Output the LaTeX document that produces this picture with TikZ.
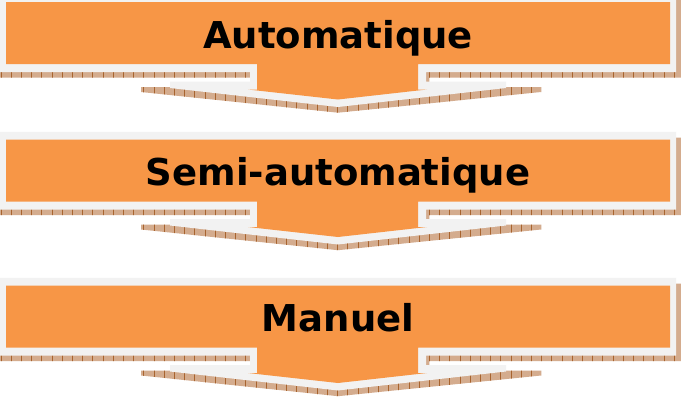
\documentclass[tikz,border=0pt]{standalone}
\usepackage{fontspec}
\newfontfamily\labelfont{DejaVu Sans}
\definecolor{arrorange}{HTML}{F79646}
\definecolor{arrgray}{HTML}{F2F2F2}
\definecolor{shadowtan}{HTML}{D4AC8E}
\definecolor{shadowline}{HTML}{A8642F}
\tikzset{
  orangefill/.style={fill=arrorange},
  grayfill/.style={fill=arrgray},
  tanfill/.style={fill=shadowtan},
  hatchline/.style={draw=shadowline, line width=0.9pt},
  steplabel/.style={font=\labelfont\bfseries\fontsize{37}{44}\selectfont, text=black, anchor=base, inner sep=0pt}
}
\begin{document}
\begin{tikzpicture}[x=1pt,y=-1pt]
\useasboundingbox (0,0) rectangle (681,399);
\fill[white] (0,0) rectangle (681,399);
\foreach \T/\txt/\nm in {2/Automatique/a1, 139.5/Semi-automatique/a2, 285.5/Manuel/a3}{
  \begin{scope}[shift={(0,\T)}]
    % hatched shadow
    \begin{scope}
      \clip (0,-2) -- (681,-2) -- (681,75.7) -- (429,75.7) -- (429,85) -- (541,85) -- (541,90)
        -- (338,110.7) -- (141,90) -- (141,85) -- (250,85) -- (250,75.7) -- (0,75.7) -- cycle;
      \fill[tanfill] (-5,-10) rectangle (690,120);
      \foreach \x in {1,11.2,...,681} \draw[hatchline] (\x,-10) -- (\x,120);
    \end{scope}
    % light gray border shape
    \fill[grayfill] (0,-7.6) -- (676,-7.6) -- (676,70) -- (426,70) -- (426,79.7) -- (506,79.7) -- (506,86)
      -- (338,105) -- (170,86) -- (170,79.7) -- (250,79.7) -- (250,70) -- (0,70) -- cycle;
    % orange arrow
    \fill[orangefill] (6,0) -- (670,0) -- (670,62) -- (418,62) -- (418,87.5) -- (427,87.5)
      -- (338,97.5) -- (248,87.5) -- (257,87.5) -- (257,62) -- (6,62) -- cycle;
    \node[steplabel] (\nm) at (338,46) {\txt};
  \end{scope}
}
\end{tikzpicture}
\end{document}
